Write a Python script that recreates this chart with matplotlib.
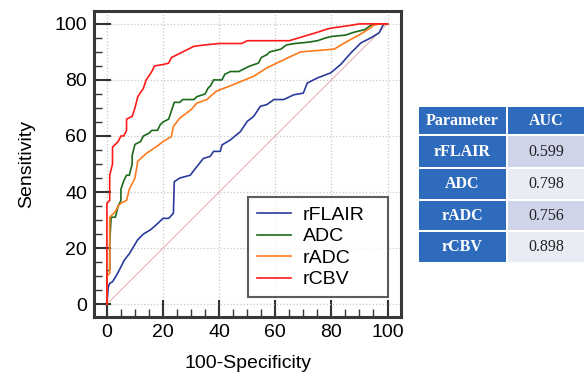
import matplotlib
matplotlib.use("Agg")
import matplotlib.pyplot as plt
from matplotlib.patches import Rectangle
from matplotlib.ticker import MultipleLocator

plt.rcParams["font.family"] = ["Liberation Sans", "DejaVu Sans"]

# ROC curves (x = 100-Specificity, y = Sensitivity)
flair_x = [0, 0.5, 1, 2, 3.5, 5, 6.2, 8, 9.5, 11, 13, 15.5, 17.8, 20, 22, 23.7, 24, 26,
           29.7, 32, 34.4, 36.8, 38, 40.4, 41, 44, 47.6, 50, 52.3, 54.7, 57, 59.5,
           63, 66.6, 70, 71.4, 75, 79.7, 83.3, 86.9, 90.5, 94, 97, 98.2, 98.8, 100]
flair_y = [0, 6.2, 7.4, 8, 10.4, 13.3, 15.7, 18, 20.5, 23, 25, 26.5, 28.5, 30.6, 30.6,
           32.4, 43.7, 45, 46, 49, 52, 52.7, 54.5, 54.5, 56.8, 58.6, 61.6, 65.2, 67,
           70.6, 71.2, 73, 73, 74.7, 75.3, 78.9, 80.7, 82.5, 85.5, 89.6, 93.2, 95,
           96.8, 99.2, 100, 100]

adc_x = [0, 0, 1, 1, 1.5, 3, 4, 5, 5, 6, 7, 8, 9, 9, 10, 12, 13, 15, 16, 18, 19, 20,
         22, 23, 24, 26, 27, 31, 32, 35, 36, 37, 38, 41, 42, 44, 47, 49, 51, 54, 55,
         57, 58, 60, 62, 64, 67, 72, 75, 78, 80, 85, 88, 92, 94, 96, 100]
adc_y = [0, 12, 12, 22, 31, 31, 35, 37, 41, 44, 46, 46, 50, 53, 57, 58, 60, 61, 62,
         62, 64, 65, 66, 69, 72, 72, 73, 73, 74, 75, 77, 78, 80, 80, 82, 83, 83, 84,
         85, 86, 88, 89, 90, 90.5, 91, 92.5, 93, 93.5, 94, 95, 95.5, 96, 97, 98,
         99.5, 100, 100]

radc_x = [0, 0, 1, 1, 3, 4, 5, 7, 8, 9, 10, 11, 14.2, 17.8, 20, 23, 23.7, 26, 30,
          32, 35.6, 39, 45, 52.3, 57, 63, 69, 81, 85.7, 90.5, 94, 95, 97, 100]
radc_y = [0, 10, 11, 31, 33, 35, 36, 37, 41, 43, 45, 51, 53.9, 56.3, 58, 59.8, 63.4,
          66.4, 69.4, 71.7, 73, 76, 78.3, 81.3, 84.3, 87.2, 90, 91, 93.8, 96.4,
          98.6, 99.5, 100, 100]

rcbv_x = [0, 0, 1, 1, 2, 2, 4, 5, 6, 7, 7, 9, 10, 11, 13, 14, 16, 17, 20, 22, 23,
          25, 27, 29, 31, 35, 40, 48, 50, 65, 70, 75, 78, 80, 87, 90, 100]
rcbv_y = [0, 36, 37, 46, 50, 56, 58, 60, 60, 62, 66, 67, 70, 74, 77, 80, 83, 85,
          85.5, 86, 88, 89, 90, 91, 92, 92.5, 93, 93, 94, 94, 95.5, 97, 98, 98.5,
          99.5, 100, 100]

series_names = ["rFLAIR", "ADC", "rADC", "rCBV"]
series_colors = ["#2c3a9c", "#1b6a1b", "#ff7a1a", "#ff1a1a"]

# AUC table
table_header = ["Parameter", "AUC"]
table_params = ["rFLAIR", "ADC", "rADC", "rCBV"]
table_auc = ["0.599", "0.798", "0.756", "0.898"]

fig = plt.figure(figsize=(5.85, 3.74), dpi=100)
ax = fig.add_axes([94 / 585, 1 - 317 / 374, 307 / 585, 306 / 374])

xs = [flair_x, adc_x, radc_x, rcbv_x]
ys = [flair_y, adc_y, radc_y, rcbv_y]
ax.plot([0, 100], [0, 100], color="#e8a8a8", lw=0.7, zorder=2)
for x, y, name, c in zip(xs, ys, series_names, series_colors):
    ax.plot(x, y, color=c, lw=1.2, label=name, zorder=3)

ax.set_xlim(-4.6, 104.8)
ax.set_ylim(-4.6, 104.6)
ax.xaxis.set_major_locator(MultipleLocator(20))
ax.yaxis.set_major_locator(MultipleLocator(20))
ax.xaxis.set_minor_locator(MultipleLocator(5))
ax.yaxis.set_minor_locator(MultipleLocator(5))
ax.tick_params(which="major", direction="in", length=12, width=1.5,
               labelsize=14, pad=5, color="#333333", top=False, right=False)
ax.tick_params(which="minor", direction="in", length=6, width=1.0,
               color="#333333", top=False, right=False)
ax.grid(True, which="major", color="#c8c8c8", ls=":", lw=0.9, zorder=0)
for s in ax.spines.values():
    s.set_linewidth(2.2)
    s.set_color("#383838")

ax.set_xlabel("100-Specificity", fontsize=14, labelpad=10)
ax.set_ylabel("Sensitivity", fontsize=14, labelpad=14)

# legend box stretched to the reference width (text stays left-aligned)
leg = ax.legend(loc="lower left", bbox_to_anchor=(0.502, 0.065, 0.456, 0.33),
                mode="expand", fontsize=14, frameon=True, fancybox=False,
                edgecolor="#333333", handlelength=1.75, handletextpad=0.6,
                labelspacing=0.2, borderpad=0.45, borderaxespad=0)
leg.get_frame().set_linewidth(1.5)

# table drawn as rectangles in figure pixel coordinates
tab = fig.add_axes([0, 0, 1, 1], zorder=5)
tab.set_xlim(0, 585)
tab.set_ylim(374, 0)
tab.axis("off")

col_edges = [418, 507, 585]
row_edges = [106, 135, 168, 200, 231, 263]
blue = "#2f6bbd"
light = ["#cfd4e9", "#e9ebf5"]
gap = 1.0

def cell(x0, x1, y0, y1, color):
    tab.add_patch(Rectangle((x0 + gap, y0 + gap), x1 - x0 - 2 * gap,
                            y1 - y0 - 2 * gap, facecolor=color, edgecolor="none"))

for j, h in enumerate(table_header):
    cell(col_edges[j], col_edges[j + 1], row_edges[0], row_edges[1], blue)
    tab.text((col_edges[j] + col_edges[j + 1]) / 2, (row_edges[0] + row_edges[1]) / 2,
             h, color="white", fontsize=11.5, fontweight="bold",
             family="Liberation Serif", ha="center", va="center")

for i, (p, a) in enumerate(zip(table_params, table_auc)):
    y0, y1 = row_edges[i + 1], row_edges[i + 2]
    cell(col_edges[0], col_edges[1], y0, y1, blue)
    cell(col_edges[1], col_edges[2], y0, y1, light[i % 2])
    tab.text((col_edges[0] + col_edges[1]) / 2, (y0 + y1) / 2, p, color="white",
             fontsize=11.5, fontweight="bold", family="Liberation Serif",
             ha="center", va="center")
    tab.text((col_edges[1] + col_edges[2]) / 2, (y0 + y1) / 2, a, color="#222222",
             fontsize=11.5, family="Liberation Serif", ha="center", va="center")

fig.savefig("out.png", dpi=100)
